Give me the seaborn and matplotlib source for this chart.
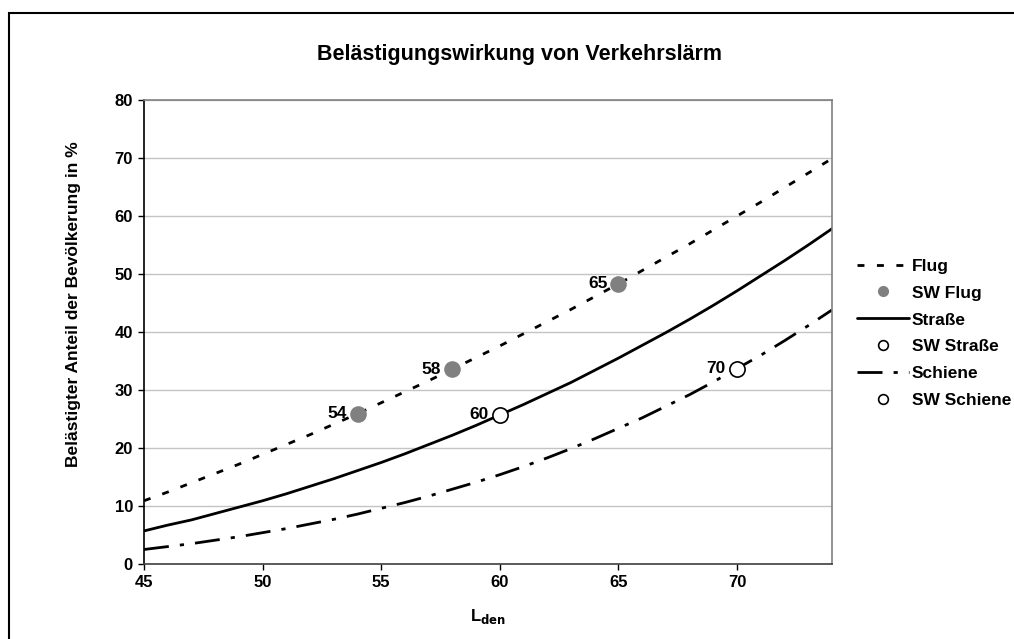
import matplotlib
matplotlib.use("Agg")
import matplotlib.pyplot as plt
from matplotlib.patches import Rectangle
from matplotlib.lines import Line2D
import seaborn as sns
import pandas as pd

# Lden levels and annoyance percentages
lden = list(range(45, 75))
flug = [10.9, 12.4, 14.0, 15.6, 17.2, 18.9, 20.6, 22.3, 24.1, 25.9,
        27.8, 29.7, 31.6, 33.6, 35.6, 37.6, 39.7, 41.8, 43.9, 46.1,
        48.3, 50.6, 52.9, 55.2, 57.6, 60.0, 62.4, 64.9, 67.4, 69.9]
strasse = [5.7, 6.7, 7.6, 8.7, 9.8, 10.9, 12.1, 13.4, 14.7, 16.1,
           17.5, 19.0, 20.6, 22.2, 23.9, 25.7, 27.5, 29.4, 31.3, 33.4,
           35.5, 37.7, 39.9, 42.2, 44.6, 47.1, 49.7, 52.3, 55.0, 57.8]
schiene = [2.5, 3.0, 3.5, 4.1, 4.7, 5.4, 6.1, 6.9, 7.7, 8.6,
           9.6, 10.6, 11.7, 12.9, 14.1, 15.4, 16.8, 18.3, 19.9, 21.6,
           23.4, 25.2, 27.2, 29.2, 31.4, 33.7, 36.0, 38.5, 41.1, 43.8]

sw_flug_x = [54, 58, 65]
sw_flug_y = [25.9, 33.6, 48.3]
sw_strasse_x = [60]
sw_strasse_y = [25.7]
sw_schiene_x = [70]
sw_schiene_y = [33.7]

sns.set_style("white")
plt.rcParams["font.family"] = ["Liberation Sans", "DejaVu Sans"]
plt.rcParams["font.weight"] = "bold"
plt.rcParams["text.color"] = "black"
plt.rcParams["axes.labelcolor"] = "black"
plt.rcParams["xtick.color"] = "black"
plt.rcParams["ytick.color"] = "black"

flug_ls = (0, (2.5, 4.5))
schiene_ls = (0, (9, 4, 1.5, 4))

fig = plt.figure(figsize=(10.14, 6.39), dpi=100)
ax = fig.add_axes([0.142, 0.1174, 0.6785, 0.7261])

df = pd.DataFrame({"Lden": lden, "Flug": flug, "Straße": strasse, "Schiene": schiene})

sns.lineplot(data=df, x="Lden", y="Flug", ax=ax, color="black", lw=2, linestyle=flug_ls)
sns.lineplot(data=df, x="Lden", y="Straße", ax=ax, color="black", lw=2)
sns.lineplot(data=df, x="Lden", y="Schiene", ax=ax, color="black", lw=2, linestyle=schiene_ls)

sns.scatterplot(x=sw_flug_x, y=sw_flug_y, ax=ax, color="#808080", s=120,
                edgecolor="#808080", linewidth=1, zorder=5)
sns.scatterplot(x=sw_strasse_x, y=sw_strasse_y, ax=ax, color="white", s=120,
                edgecolor="black", linewidth=1.2, zorder=5)
sns.scatterplot(x=sw_schiene_x, y=sw_schiene_y, ax=ax, color="white", s=120,
                edgecolor="black", linewidth=1.2, zorder=5)

for xs, ys in [(sw_flug_x, sw_flug_y), (sw_strasse_x, sw_strasse_y), (sw_schiene_x, sw_schiene_y)]:
    for x, y in zip(xs, ys):
        ax.annotate(str(x), (x, y), xytext=(-8, 0), textcoords="offset points",
                    ha="right", va="center", fontsize=12.5, fontweight="bold")

ax.set_xlim(45, 74)
ax.set_ylim(0, 80)
ax.set_xticks(range(45, 75, 5))
ax.set_yticks(range(0, 90, 10))
ax.tick_params(axis="both", labelsize=12, direction="out", length=4, width=1,
               bottom=True, left=True, pad=4)
for lab in ax.get_xticklabels() + ax.get_yticklabels():
    lab.set_fontweight("bold")
ax.grid(axis="y", color="#c4c4c4", lw=1)
ax.set_axisbelow(True)
ax.spines["left"].set_color("black")
ax.spines["bottom"].set_color("#404040")
ax.spines["top"].set_color("#808080")
ax.spines["right"].set_color("#808080")
for sp in ax.spines.values():
    sp.set_linewidth(1.2)

ax.set_xlabel(r"L$_\mathbf{den}$", fontsize=12, fontweight="bold", labelpad=12)
ax.set_ylabel("Belästigter Anteil der Bevölkerung in %", fontsize=12.5,
              fontweight="bold")
ax.yaxis.set_label_coords(-0.091, 0.56)

fig.text(0.512, 0.914, "Belästigungswirkung von Verkehrslärm", ha="center",
         va="center", fontsize=15.5, fontweight="bold")

handles = [
    Line2D([], [], color="black", lw=2, linestyle=flug_ls),
    Line2D([], [], ls="none", marker="o", ms=7, mfc="#808080", mec="#808080"),
    Line2D([], [], color="black", lw=2),
    Line2D([], [], ls="none", marker="o", ms=7, mfc="white", mec="black", mew=1.2),
    Line2D([], [], color="black", lw=2, linestyle=schiene_ls),
    Line2D([], [], ls="none", marker="o", ms=7, mfc="white", mec="black", mew=1.2),
]
labels = ["Flug", "SW Flug", "Straße", "SW Straße", "Schiene", "SW Schiene"]
fig.legend(handles, labels, loc="upper left", bbox_to_anchor=(0.830, 0.620),
           frameon=False, handlelength=3.0, handletextpad=0.15, labelspacing=0.68,
           prop={"weight": "bold", "size": 12.5})

fig.patches.append(Rectangle((9 / 1014, -0.1), 1.2, 1 - 13 / 639 + 0.1,
                             transform=fig.transFigure, fill=False,
                             edgecolor="black", lw=1.5))

fig.savefig("out.png", dpi=100)
